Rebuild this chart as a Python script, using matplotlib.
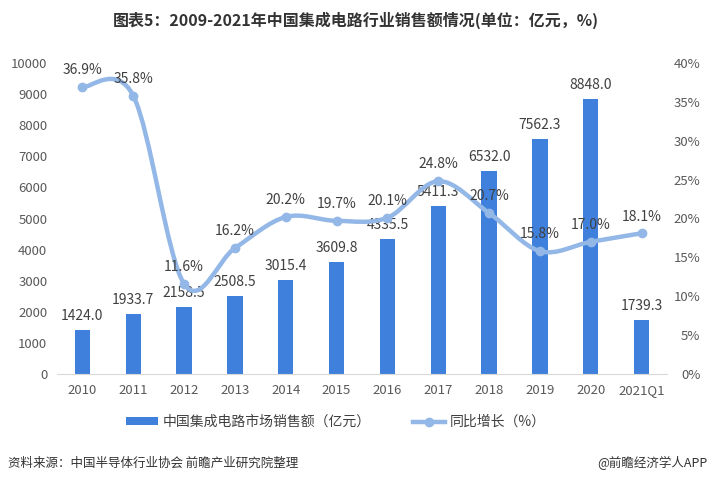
import matplotlib
matplotlib.use('Agg')
import matplotlib.pyplot as plt
from matplotlib.path import Path
from matplotlib.patches import PathPatch, Patch
from matplotlib.lines import Line2D
from matplotlib.ticker import FuncFormatter

plt.rcParams['font.family'] = ['Noto Sans CJK SC', 'DejaVu Sans']

# data
years = ['2010', '2011', '2012', '2013', '2014', '2015', '2016', '2017',
         '2018', '2019', '2020', '2021Q1']
sales = [1424.0, 1933.7, 2158.5, 2508.5, 3015.4, 3609.8, 4335.5, 5411.3,
         6532.0, 7562.3, 8848.0, 1739.3]
growth = [36.9, 35.8, 11.6, 16.2, 20.2, 19.7, 20.1, 24.8, 20.7, 15.8, 17.0, 18.1]

bar_color = '#3F80DC'
line_color = '#93B7E6'
tick_color = '#595959'
label_color = '#404040'

fig = plt.figure(figsize=(7.12, 4.83), dpi=100)
ax = fig.add_axes([57 / 712, 1 - 374 / 483, 610 / 712, 311 / 483])
ax2 = ax.twinx()

x = list(range(len(years)))
ax.bar(x, sales, width=0.3, color=bar_color, zorder=2)
for xi, v in zip(x, sales):
    ax.annotate(f'{v:.1f}', (xi, v), xytext=(0, 5), textcoords='offset points',
                ha='center', va='bottom', fontsize=10, color=label_color)

ax.set_xlim(-0.5, len(years) - 0.5)
ax.set_ylim(0, 10000)
ax.set_yticks(range(0, 10001, 1000))
ax.set_xticks(x)
ax.set_xticklabels(years)
ax.tick_params(axis='both', length=0, labelsize=9.5, colors=tick_color)
ax.tick_params(axis='y', pad=7)
ax.tick_params(axis='x', pad=7)
for s in ['top', 'right', 'left']:
    ax.spines[s].set_visible(False)
ax.spines['bottom'].set_color('#D9D9D9')

# smooth growth line (catmull-rom as bezier path)
pts = list(zip(x, growth))
verts = [pts[0]]
codes = [Path.MOVETO]
n = len(pts)
for i in range(n - 1):
    p0 = pts[i - 1] if i > 0 else pts[i]
    p1 = pts[i]
    p2 = pts[i + 1]
    p3 = pts[i + 2] if i + 2 < n else pts[i + 1]
    c1 = (p1[0] + (p2[0] - p0[0]) / 6, p1[1] + (p2[1] - p0[1]) / 6)
    c2 = (p2[0] - (p3[0] - p1[0]) / 6, p2[1] - (p3[1] - p1[1]) / 6)
    verts += [c1, c2, p2]
    codes += [Path.CURVE4] * 3
ax2.add_patch(PathPatch(Path(verts, codes), facecolor='none', edgecolor=line_color,
                        lw=3.2, capstyle='round', zorder=3))
ax2.plot(x, growth, 'o', color=line_color, ms=6, zorder=4)
for xi, v in zip(x, growth):
    ax2.annotate(f'{v:.1f}%', (xi, v), xytext=(0, 7), textcoords='offset points',
                 ha='center', va='bottom', fontsize=10, color=label_color)

ax2.set_ylim(0, 40)
ax2.set_yticks(range(0, 41, 5))
ax2.yaxis.set_major_formatter(FuncFormatter(lambda v, p: f'{v:.0f}%'))
ax2.tick_params(axis='y', length=0, labelsize=9.5, colors=tick_color, pad=24)
for lab in ax2.get_yticklabels():
    lab.set_horizontalalignment('right')
for s in ax2.spines.values():
    s.set_visible(False)

fig.text(0.5, 0.958, '图表5：2009-2021年中国集成电路行业销售额情况(单位：亿元，%)',
         ha='center', va='center', fontsize=11.5, fontweight='bold', color='#333333')

handles = [Patch(facecolor=bar_color),
           Line2D([0], [0], color=line_color, lw=3.2, marker='o', ms=6)]
fig.legend(handles, ['中国集成电路市场销售额（亿元）', '同比增长（%）'],
           loc='center', bbox_to_anchor=(0.472, 1 - 422 / 483), ncol=2,
           frameon=False, fontsize=10, handlelength=2.3, handleheight=0.5,
           handletextpad=0.35, columnspacing=3.0, labelcolor=label_color)

fig.text(8 / 712, 1 - 463 / 483, '资料来源：中国半导体行业协会 前瞻产业研究院整理',
         ha='left', va='center', fontsize=9, color='#333333')
fig.text(708 / 712, 1 - 463 / 483, '@前瞻经济学人APP',
         ha='right', va='center', fontsize=9, color='#333333')

fig.savefig('out.png', dpi=100)
